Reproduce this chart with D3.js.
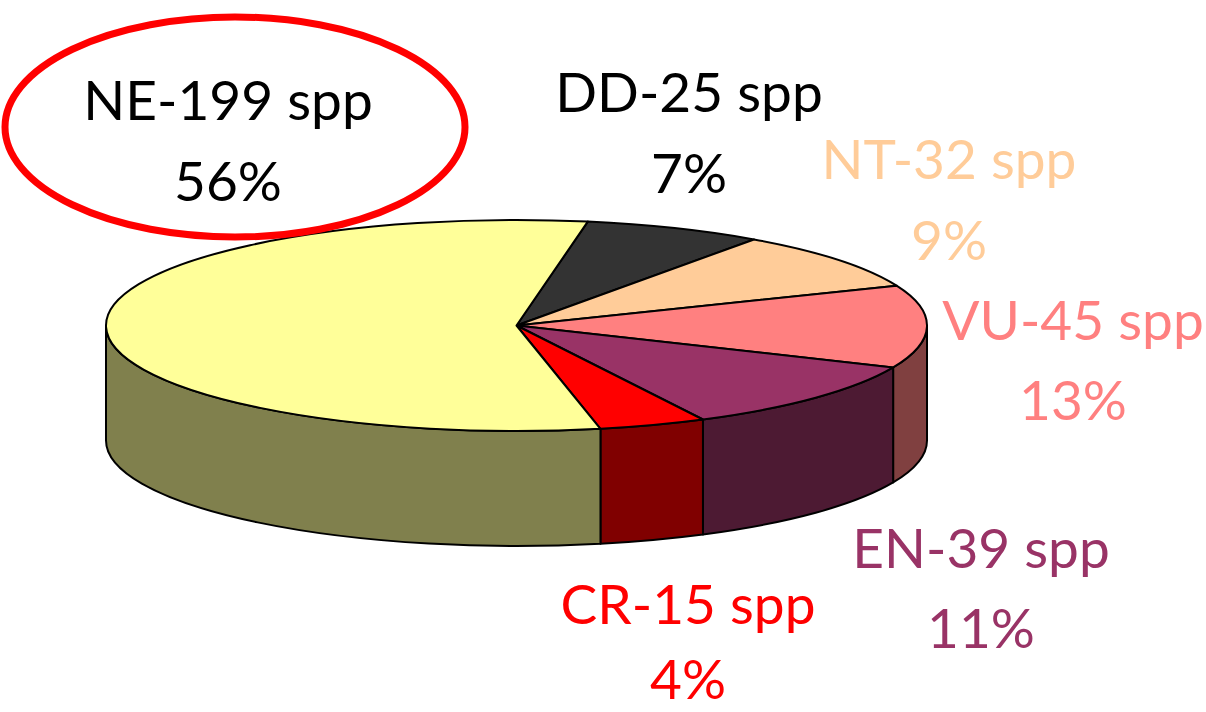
<!DOCTYPE html>
<html>
<head>
<meta charset="utf-8">
<script src="https://cdn.jsdelivr.net/npm/d3@7"></script>
<style>
  body { margin: 0; background: #fff; }
  svg { display: block; }
  text { font-family: "Comic Sans MS", "Lato", sans-serif; }
</style>
</head>
<body>
<div id="chart"></div>
<script>
// data
const categories = ["DD", "NT", "VU", "EN", "CR", "NE"];
const species = [25, 32, 45, 39, 15, 199];

// styles
const topColors = ["#333333", "#FFCC99", "#FF8080", "#993366", "#FF0000", "#FFFF99"];
const sideColors = ["#1a1a1a", "#806650", "#804040", "#4D1A33", "#800000", "#80804D"];
const labelColors = ["#000000", "#FFCC99", "#FF8080", "#993366", "#FF0000", "#000000"];
// label anchor (centre x, first baseline y, line gap)
const labelPos = [[689, 112, 81], [949, 179, 81], [1073, 340, 80], [981, 568, 80], [688, 624, 75], [228, 120, 81]];

const w = 1206;
const h = 712;
const cx = 516.5, cy = 325.5;
const rx = 410.5, ry = 105.5;
const depth = 115;
const startDeg = 10;

const svg = d3.select("#chart")
    .append("svg")
    .attr("width", w)
    .attr("height", h);

const total = d3.sum(species);
const table = categories.map((c, i) => ({ cat: c, value: species[i], i: i }));

const pie = d3.pie()
    .value(d => d.value)
    .sort(null)
    .startAngle(startDeg * Math.PI / 180)
    .endAngle(startDeg * Math.PI / 180 + 2 * Math.PI);

const slices = pie(table);

function pt(a, dy) {
    return [cx + rx * Math.sin(a), cy - ry * Math.cos(a) + (dy || 0)];
}

// side walls (front half only: angles between 90 and 270 deg)
const sides = [];
slices.forEach(s => {
    let a0 = s.startAngle, a1 = s.endAngle;
    [0, 2 * Math.PI].forEach(off => {
        const b0 = Math.max(a0, Math.PI / 2 + off);
        const b1 = Math.min(a1, 3 * Math.PI / 2 + off);
        if (b1 > b0) sides.push({ s: s, b0: b0, b1: b1 });
    });
});

function sidePath(d) {
    const p0 = pt(d.b0), p1 = pt(d.b1);
    const q1 = pt(d.b1, depth), q0 = pt(d.b0, depth);
    return "M" + p0 + "A" + rx + "," + ry + " 0 0 1 " + p1 +
        "L" + q1 + "A" + rx + "," + ry + " 0 0 0 " + q0 + "Z";
}

svg.append("g")
    .selectAll("path")
    .data(sides)
    .enter()
    .append("path")
    .attr("d", sidePath)
    .attr("fill", d => sideColors[d.s.data.i])
    .attr("stroke", "#000")
    .attr("stroke-width", 2)
    .attr("stroke-linejoin", "round");

// top face: d3 arc squashed into an ellipse
const arc = d3.arc()
    .innerRadius(0)
    .outerRadius(rx);

svg.append("g")
    .attr("transform", "translate(" + cx + "," + cy + ") scale(1," + (ry / rx) + ")")
    .selectAll("path")
    .data(slices)
    .enter()
    .append("path")
    .attr("d", arc)
    .attr("fill", d => topColors[d.data.i])
    .attr("stroke", "#000")
    .attr("stroke-width", 2)
    .attr("stroke-linejoin", "round")
    .attr("vector-effect", "non-scaling-stroke");

// labels
const labels = svg.append("g")
    .selectAll("text")
    .data(table)
    .enter()
    .append("text")
    .attr("text-anchor", "middle")
    .attr("font-size", 55)
    .attr("fill", d => labelColors[d.i]);

labels.append("tspan")
    .attr("x", d => labelPos[d.i][0])
    .attr("y", d => labelPos[d.i][1])
    .text(d => d.cat + "-" + d.value + " spp");

labels.append("tspan")
    .attr("x", d => labelPos[d.i][0])
    .attr("y", d => labelPos[d.i][1] + labelPos[d.i][2])
    .text(d => Math.round(d.value / total * 100) + "%");

// red ring around the NE label
svg.append("ellipse")
    .attr("cx", 235)
    .attr("cy", 127)
    .attr("rx", 230)
    .attr("ry", 110)
    .attr("fill", "none")
    .attr("stroke", "#FF0000")
    .attr("stroke-width", 7);
</script>
</body>
</html>
